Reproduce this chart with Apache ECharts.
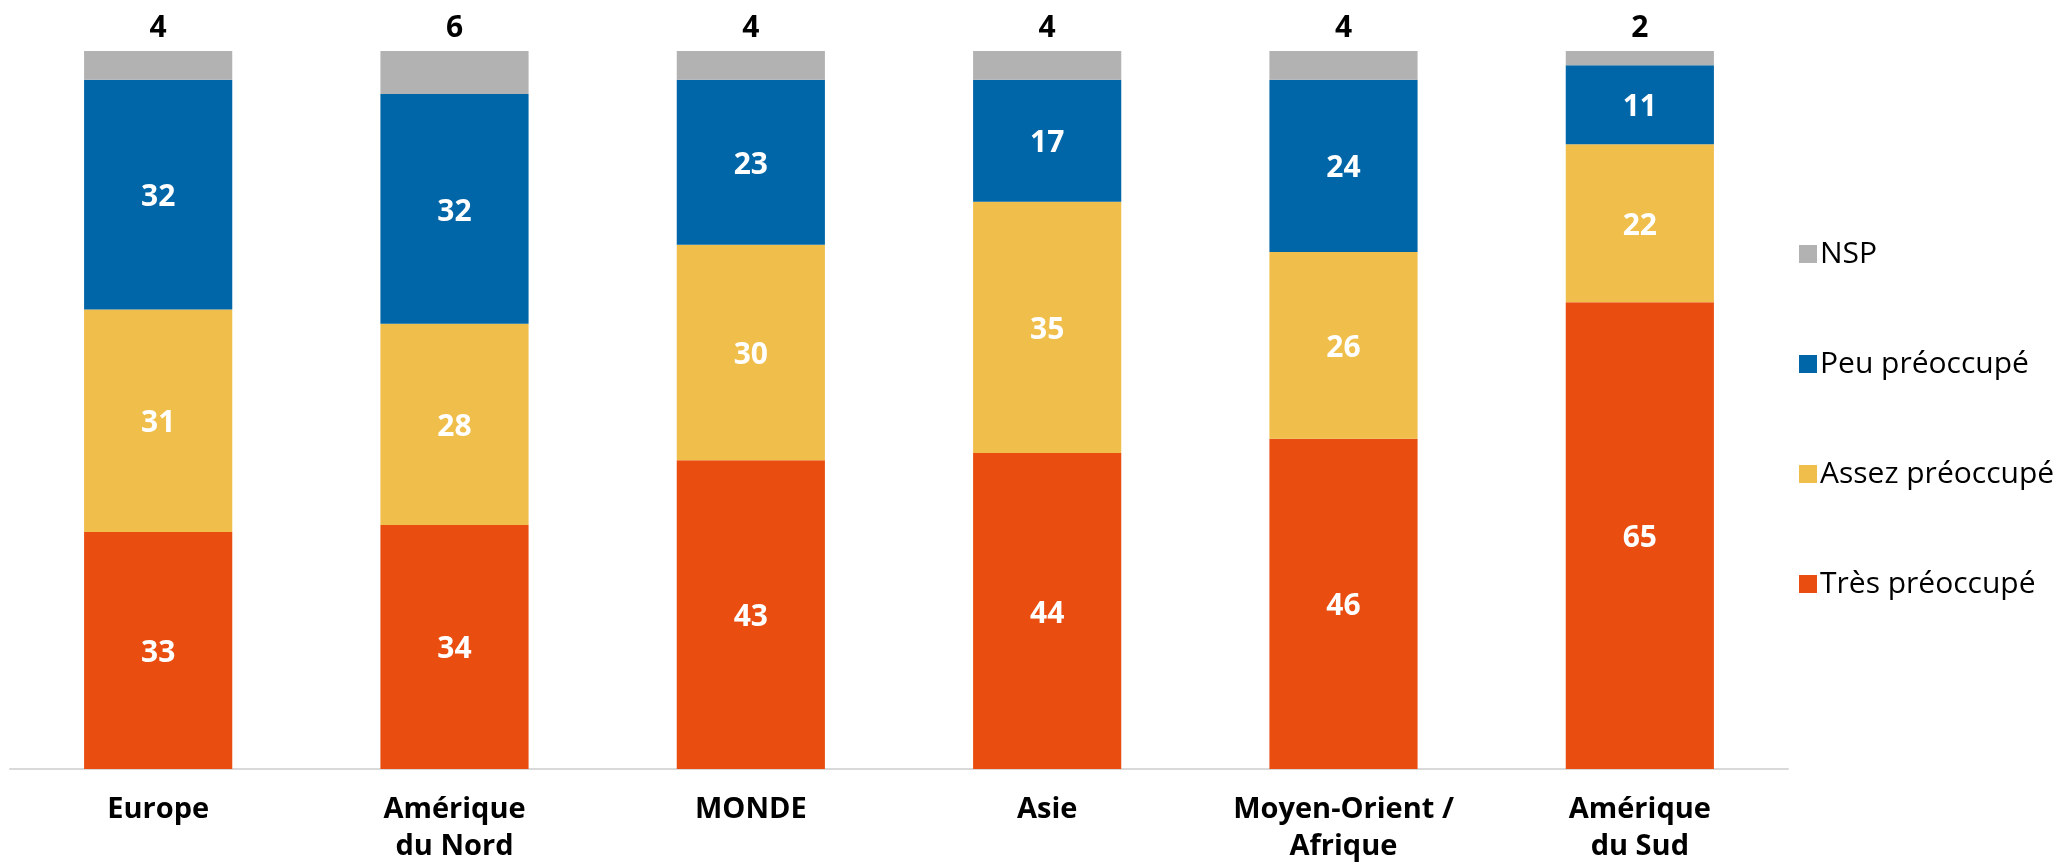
<!DOCTYPE html>
<html><head><meta charset="utf-8">
<script src="https://cdn.jsdelivr.net/npm/echarts@6/dist/echarts.min.js"></script>
<style>html,body{margin:0;padding:0;background:#fff}#c{width:2061px;height:865px}</style>
</head><body><div id="c"></div>
<script>
const categories = ['Europe', 'Amérique\ndu Nord', 'MONDE', 'Asie', 'Moyen-Orient /\nAfrique', 'Amérique\ndu Sud'];
const tresPreoccupe = [33, 34, 43, 44, 46, 65];
const assezPreoccupe = [31, 28, 30, 35, 26, 22];
const peuPreoccupe = [32, 32, 23, 17, 24, 11];
const nsp = [4, 6, 4, 4, 4, 2];
const seriesNames = ['Très préoccupé', 'Assez préoccupé', 'Peu préoccupé', 'NSP'];
const colors = ['#E94E10', '#F0BE4B', '#0066A8', '#B2B2B2'];
const font = '"Open Sans", Lato, sans-serif';

const chart = echarts.init(document.getElementById('c'), null, {renderer: 'canvas'});
const inside = {show: true, position: 'inside', offset: [0, 3], color: '#fff', fontWeight: 'bold', fontSize: 30, fontFamily: font};
const values = [tresPreoccupe, assezPreoccupe, peuPreoccupe, nsp];
const series = values.map((v, i) => ({
  name: seriesNames[i], type: 'bar', stack: 'total', data: v, barWidth: '50%',
  itemStyle: {color: colors[i]},
  label: i < 3 ? inside : {show: true, position: 'top', distance: 8, color: '#000', fontWeight: 'bold', fontSize: 30, fontFamily: font}
}));
chart.setOption({
  animation: false,
  textStyle: {fontFamily: font},
  grid: {left: 10, right: 273, top: 51, bottom: 95, containLabel: false},
  legend: {
    orient: 'vertical', left: 1794, top: 234, itemWidth: 18, itemHeight: 18, itemGap: 80,
    data: ['NSP', 'Peu préoccupé', 'Assez préoccupé', 'Très préoccupé'],
    textStyle: {fontSize: 30, color: '#000', lineHeight: 30, fontFamily: font, padding: [0,0,0,-2]},
    icon: 'rect'
  },
  xAxis: {
    type: 'category', data: categories,
    axisLine: {lineStyle: {color: '#D9D9D9', width: 2}},
    axisTick: {show: false},
    axisLabel: {fontSize: 29, fontWeight: 'bold', color: '#000', lineHeight: 37, margin: 22, interval: 0, fontFamily: font}
  },
  yAxis: {type: 'value', min: 0, max: 100, show: false, splitLine: {show: false}},
  series: series
});
</script></body></html>
